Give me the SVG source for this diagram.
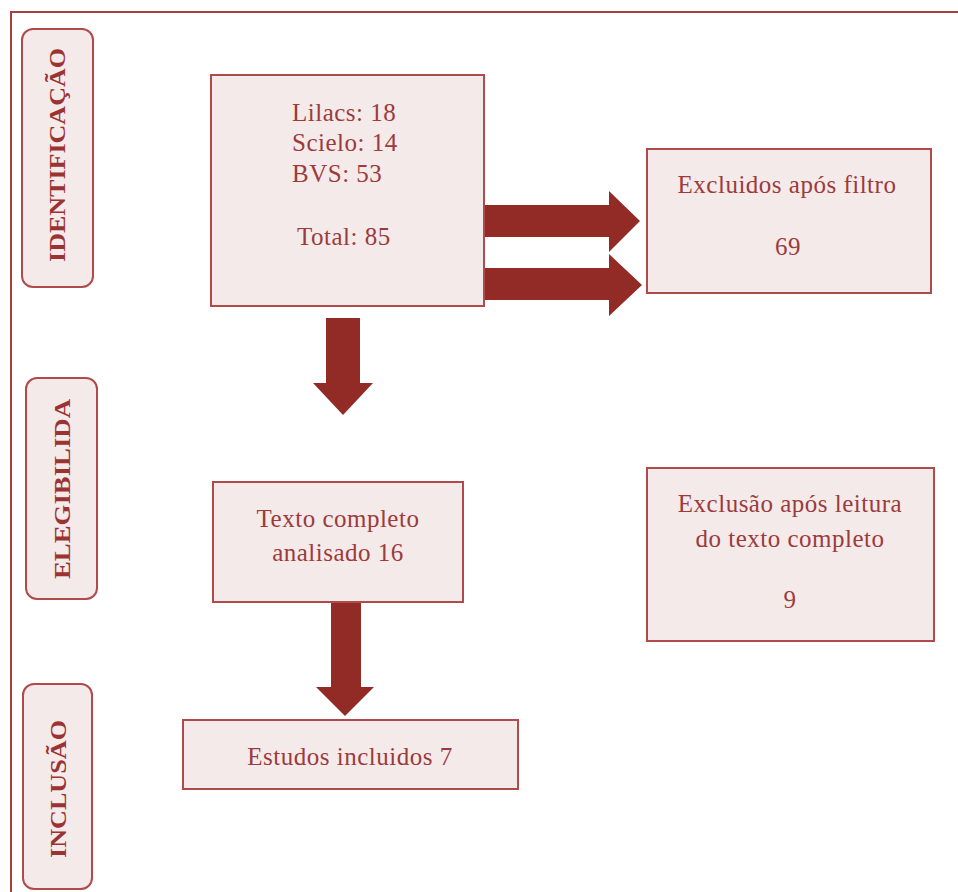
<svg xmlns="http://www.w3.org/2000/svg" width="958" height="892" viewBox="0 0 958 892">
  <style>
    .frame { fill: none; stroke: #a8403f; stroke-width: 2; }
    .box { fill: #f4eaea; stroke: #b14a4a; stroke-width: 2; }
    .stage { fill: #f4eaea; stroke: #b14a4a; stroke-width: 2; }
    .txt { font-family: "Liberation Serif", "Times New Roman", serif; font-size: 25px; letter-spacing: 0.5px; fill: #9c3b3b; }
    .mid { text-anchor: middle; }
    .side { font-family: "Liberation Serif", "Times New Roman", serif; font-size: 24px; font-weight: bold; fill: #9c3333; text-anchor: middle; }
    .arrow { fill: #922a26; }
  </style>

  <rect width="958" height="892" fill="#ffffff"/>

  <!-- page frame: top and left rules -->
  <path class="frame" d="M11,892 V12 H958"/>

  <!-- stage labels -->
  <g id="stage-identificacao">
    <rect class="stage" x="22" y="29" width="71" height="258" rx="11"/>
    <text class="side" transform="translate(65,155) rotate(-90)" textLength="214" lengthAdjust="spacingAndGlyphs">IDENTIFICAÇÃO</text>
  </g>
  <g id="stage-elegibilidade">
    <rect class="stage" x="26" y="378" width="71" height="221" rx="11"/>
    <text class="side" transform="translate(70,489) rotate(-90)" textLength="180" lengthAdjust="spacingAndGlyphs">ELEGIBILIDA</text>
  </g>
  <g id="stage-inclusao">
    <rect class="stage" x="23" y="684" width="69" height="205" rx="11"/>
    <text class="side" transform="translate(66,789) rotate(-90)" textLength="138" lengthAdjust="spacingAndGlyphs">INCLUSÃO</text>
  </g>

  <!-- flow arrows -->
  <g id="connectors">
    <polygon class="arrow" points="484,205 609,205 609,191 640,221 609,252 609,237 484,237"/>
    <polygon class="arrow" points="484,268 609,268 609,254 642,285 609,316 609,300 484,300"/>
    <polygon class="arrow" points="326,318 360,318 360,383 373,383 343,415 313,383 326,383"/>
    <polygon class="arrow" points="331,602 361,602 361,687 374,687 345,716 316,687 331,687"/>
  </g>

  <!-- records found -->
  <g id="node-busca">
    <rect class="box" x="211" y="75" width="273" height="231"/>
    <text class="txt" x="292" y="121">Lilacs: 18</text>
    <text class="txt" x="292" y="151">Scielo: 14</text>
    <text class="txt" x="292" y="182">BVS: 53</text>
    <text class="txt" x="297" y="245">Total: 85</text>
  </g>

  <g id="node-excluidos">
    <rect class="box" x="647" y="149" width="284" height="144"/>
    <text class="txt mid" x="787" y="193">Excluidos após filtro</text>
    <text class="txt mid" x="788" y="255">69</text>
  </g>

  <g id="node-texto-completo">
    <rect class="box" x="213" y="482" width="250" height="120"/>
    <text class="txt mid" x="338" y="527">Texto completo</text>
    <text class="txt mid" x="338" y="561">analisado 16</text>
  </g>

  <g id="node-exclusao">
    <rect class="box" x="647" y="468" width="287" height="173"/>
    <text class="txt mid" x="790" y="512">Exclusão após leitura</text>
    <text class="txt mid" x="790" y="547">do texto completo</text>
    <text class="txt mid" x="790" y="608">9</text>
  </g>

  <g id="node-incluidos">
    <rect class="box" x="183" y="720" width="335" height="69"/>
    <text class="txt mid" x="350" y="765">Estudos incluidos 7</text>
  </g>
</svg>
